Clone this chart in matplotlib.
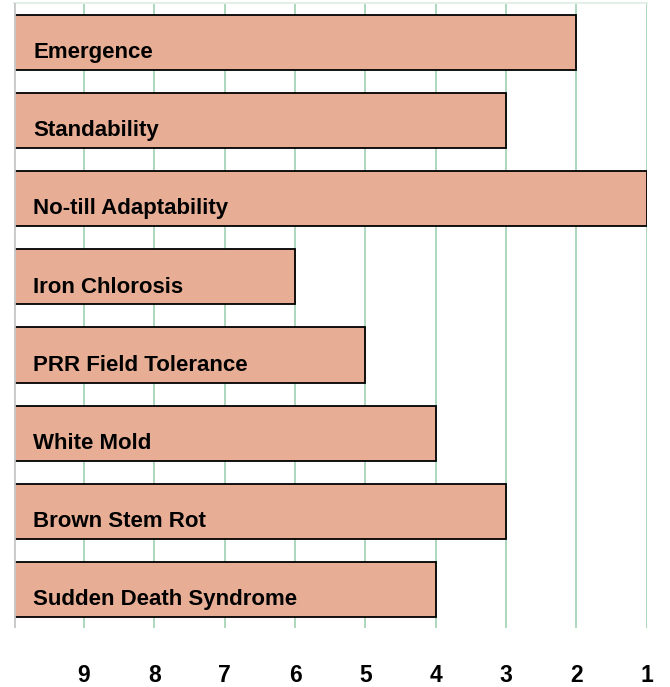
import matplotlib.pyplot as plt
import numpy as np

plt.rcParams['font.family'] = ['Liberation Sans', 'DejaVu Sans']

# Данные
traits = ['Emergence', 'Standability', 'No-till Adaptability', 'Iron Chlorosis',
          'PRR Field Tolerance', 'White Mold', 'Brown Stem Rot',
          'Sudden Death Syndrome']
scores = [2, 3, 1, 6, 5, 4, 3, 4]
ticks = [9, 8, 7, 6, 5, 4, 3, 2, 1]

fig = plt.figure(figsize=(6.70, 6.87), dpi=100)
ax = fig.add_axes([13.7/670, 59/687, 633/670, 625/687])

y = np.arange(len(traits))
start = 10
ax.barh(y, [start - s for s in scores], left=scores, height=0.705,
        color='#E8AE95', edgecolor='black', linewidth=1.3, zorder=2)
ax.axvline(start, color='#c8c8c8', lw=2, zorder=3)

for yi, name in zip(y, traits):
    ax.text(9.72, yi + 0.13, name, fontsize=16, fontweight='bold',
            va='center', ha='left', zorder=4)

ax.set_xlim(10, 1)
ax.set_ylim(7.494, -0.506)
ax.set_xticks(ticks)
ax.set_xticklabels([str(t) for t in ticks], fontsize=16.5, fontweight='bold')
ax.set_yticks([])
ax.tick_params(axis='x', length=0, pad=26)

for x in range(1, 11):
    ax.axvline(x, color='#A6D5B9', lw=1.3, zorder=1)

for s in ['left', 'right', 'bottom']:
    ax.spines[s].set_visible(False)
ax.spines['top'].set_color('#e4efe8')
ax.spines['top'].set_linewidth(1.5)

fig.savefig('out.png', dpi=100)
